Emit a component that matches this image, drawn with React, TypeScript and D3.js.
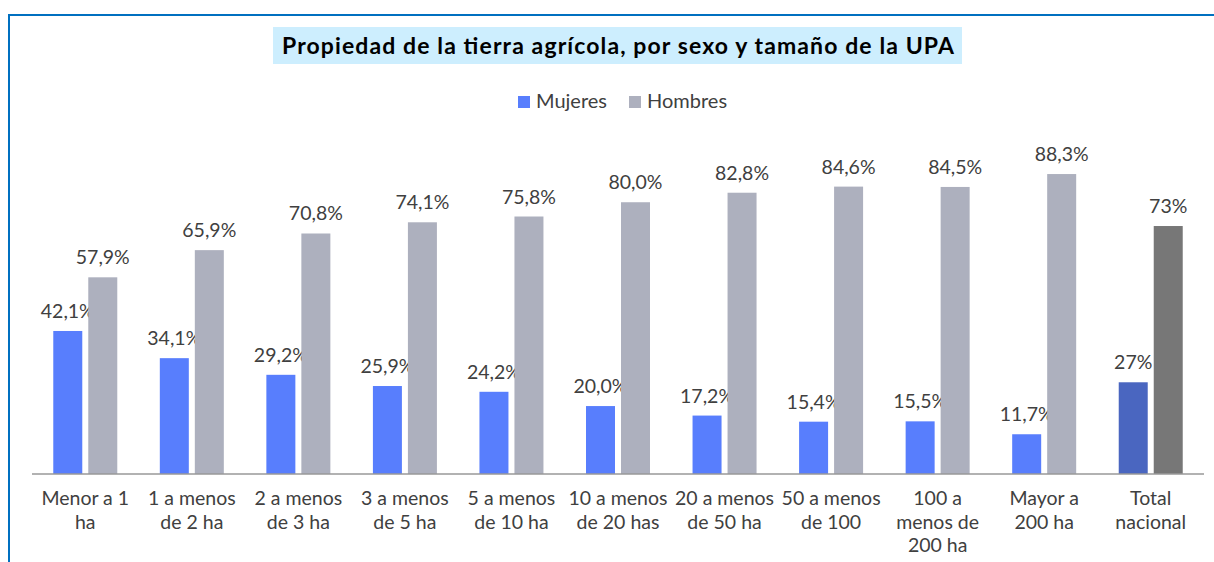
import { useEffect, useRef } from "react";
import * as d3 from "d3";

const categories = [
  ["Menor a 1", "ha"],
  ["1 a menos", "de 2 ha"],
  ["2 a menos", "de 3 ha"],
  ["3 a menos", "de 5 ha"],
  ["5 a menos", "de 10 ha"],
  ["10 a menos", "de 20 has"],
  ["20 a menos", "de 50 ha"],
  ["50 a menos", "de 100"],
  ["100 a", "menos de", "200 ha"],
  ["Mayor a", "200 ha"],
  ["Total", "nacional"],
];
const mujeres = [42.1, 34.1, 29.2, 25.9, 24.2, 20.0, 17.2, 15.4, 15.5, 11.7, 27];
const hombres = [57.9, 65.9, 70.8, 74.1, 75.8, 80.0, 82.8, 84.6, 84.5, 88.3, 73];
const mujeresLabels = ["42,1%", "34,1%", "29,2%", "25,9%", "24,2%", "20,0%", "17,2%", "15,4%", "15,5%", "11,7%", "27%"];
const hombresLabels = ["57,9%", "65,9%", "70,8%", "74,1%", "75,8%", "80,0%", "82,8%", "84,6%", "84,5%", "88,3%", "73%"];

const App = () => {
  const canvas = useRef<SVGSVGElement>(null);

  useEffect(() => {
    const width = 1214;
    const height = 562;
    const font = "Lato, 'Open Sans', sans-serif";
    const textColor = "#404040";
    const svg = d3.select(canvas.current);
    svg.selectAll("*").remove();

    // frame (only top + left edges visible)
    svg.append("path")
      .attr("d", `M9,${height} L9,15 L${width},15`)
      .attr("fill", "none")
      .attr("stroke", "#0070c0")
      .attr("stroke-width", 2);

    // title
    svg.append("rect")
      .attr("x", 273).attr("y", 27).attr("width", 689).attr("height", 37)
      .attr("fill", "#cdeefe");
    svg.append("text")
      .attr("x", 618).attr("y", 54)
      .attr("text-anchor", "middle")
      .attr("font-family", font)
      .attr("font-weight", "bold")
      .attr("font-size", 23)
      .attr("textLength", 672)
      .attr("lengthAdjust", "spacing")
      .attr("fill", "#000")
      .text("Propiedad de la tierra agrícola, por sexo y tamaño de la UPA");

    // legend
    const legend = [
      { name: "Mujeres", color: "#587efd", x: 518 },
      { name: "Hombres", color: "#adb0be", x: 629 },
    ];
    const lg = svg.append("g").attr("font-family", font).attr("font-size", 20).attr("fill", textColor);
    legend.forEach((l) => {
      lg.append("rect").attr("x", l.x).attr("y", 96).attr("width", 12).attr("height", 12).attr("fill", l.color);
      lg.append("text").attr("x", l.x + 18).attr("y", 108).text(l.name);
    });

    const margin = { left: 32, right: 10, bottom: 474 };
    const x = d3.scaleBand<number>()
      .domain(d3.range(categories.length))
      .range([margin.left, width - margin.right]);
    const y = d3.scaleLinear().domain([0, 100]).range([margin.bottom, margin.bottom - 339.7]);
    const barW = 29;
    const gap = 6;

    const colorM = (i: number) => (i === categories.length - 1 ? "#4a66c0" : "#587efd");
    const colorH = (i: number) => (i === categories.length - 1 ? "#777777" : "#adb0be");

    const series = [
      { values: mujeres, labels: mujeresLabels, color: colorM, off: -gap / 2 - barW },
      { values: hombres, labels: hombresLabels, color: colorH, off: gap / 2 },
    ];

    series.forEach((s) => {
      svg.append("g")
        .selectAll("rect")
        .data(s.values)
        .join("rect")
        .attr("x", (d, i) => x(i)! + x.bandwidth() / 2 + s.off)
        .attr("y", (d) => y(d))
        .attr("width", barW)
        .attr("height", (d) => y(0) - y(d))
        .attr("fill", (d, i) => s.color(i));

      svg.append("g")
        .attr("font-family", font)
        .attr("font-size", 19.5)
        .attr("fill", textColor)
        .attr("text-anchor", "middle")
        .selectAll("text")
        .data(s.values)
        .join("text")
        .attr("x", (d, i) => x(i)! + x.bandwidth() / 2 + s.off + barW / 2)
        .attr("y", (d) => y(d) - 13)
        .text((d, i) => s.labels[i]);
    });

    // axis line
    svg.append("line")
      .attr("x1", margin.left).attr("x2", width - margin.right)
      .attr("y1", y(0)).attr("y2", y(0))
      .attr("stroke", "#999").attr("stroke-width", 1.3);

    // category labels
    const cat = svg.append("g")
      .attr("font-family", font)
      .attr("font-size", 19.5)
      .attr("fill", textColor)
      .attr("text-anchor", "middle");
    categories.forEach((lines, i) => {
      const t = cat.append("text").attr("x", x(i)! + x.bandwidth() / 2);
      lines.forEach((line, j) => {
        t.append("tspan").attr("x", x(i)! + x.bandwidth() / 2).attr("y", 505 + j * 23.5).text(line);
      });
    });
  }, []);

  return (
    <svg
      ref={canvas}
      width={1214}
      height={562}
      style={{ position: "absolute", left: 0, top: 0, background: "#fff" }}
    />
  );
};

export default App;
